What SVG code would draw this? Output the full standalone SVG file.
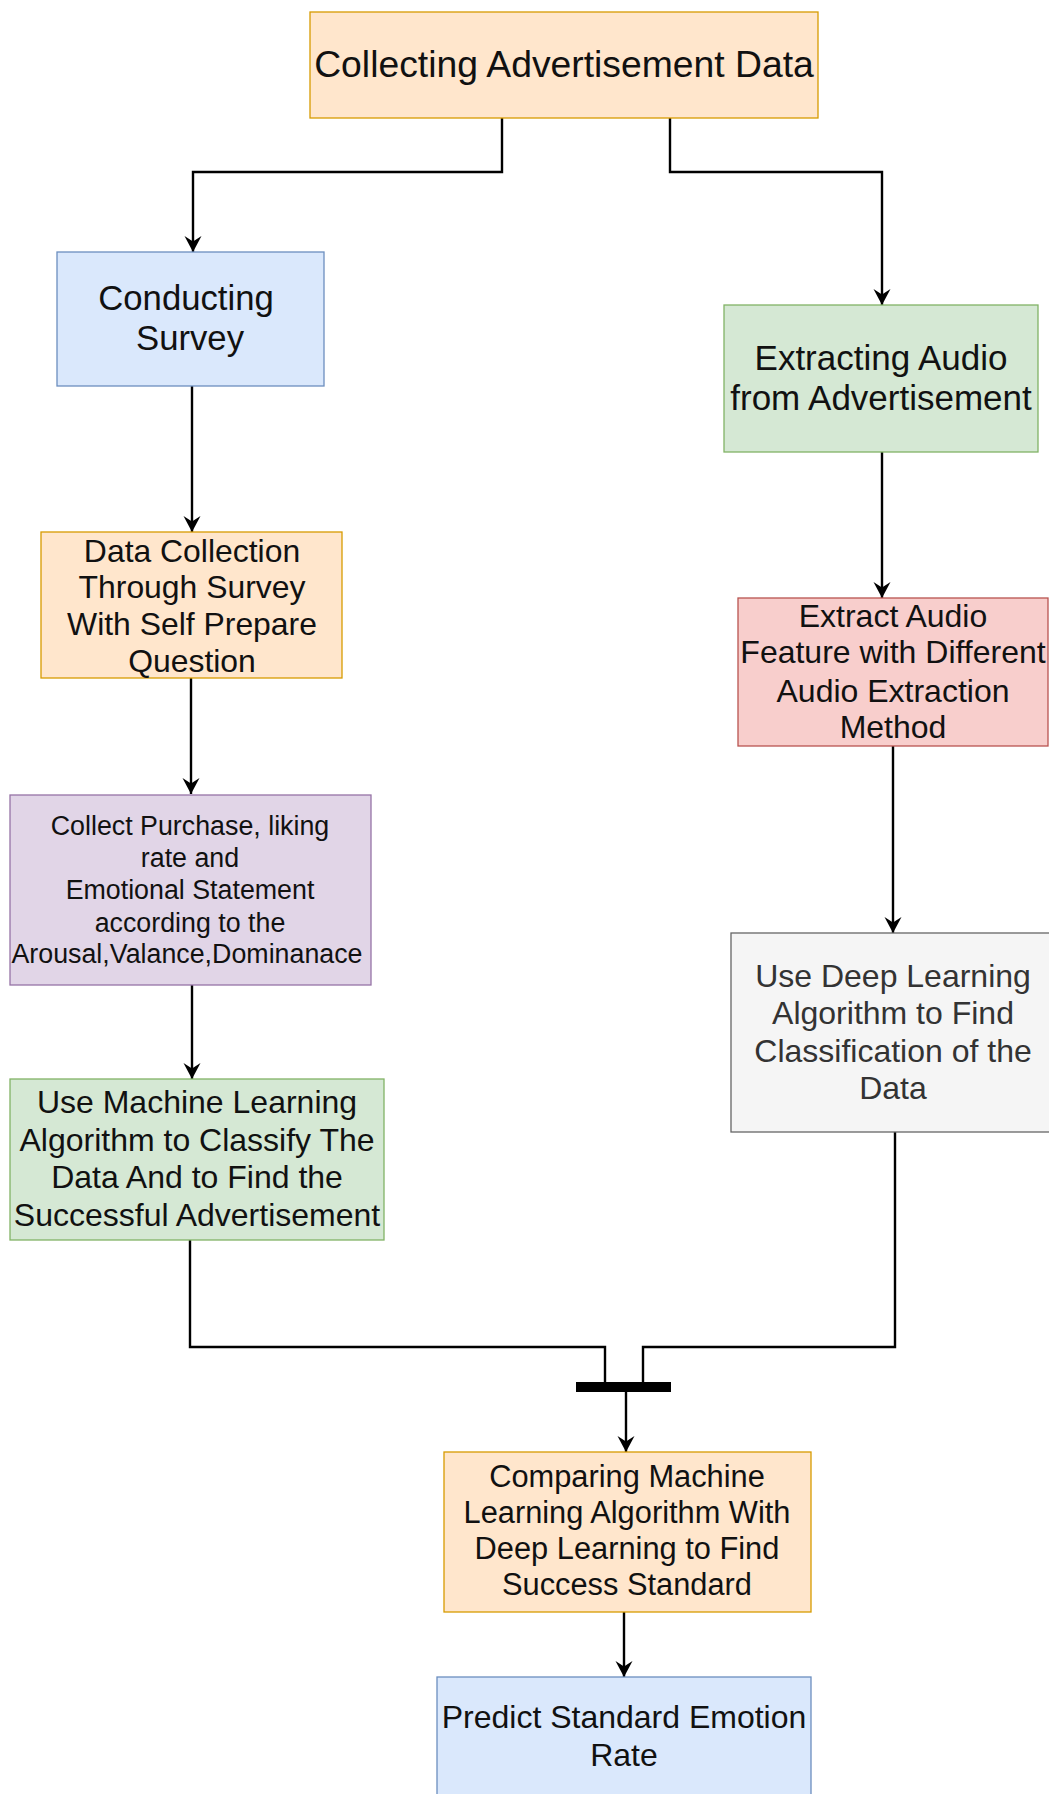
<svg xmlns="http://www.w3.org/2000/svg" width="1049" height="1794" viewBox="0 0 1049 1794">
<defs>
<style>
text{font-family:"Liberation Sans",Arial,Helvetica,sans-serif;fill:#111;text-anchor:middle}
.box{stroke-width:1.3}
.orange{fill:#ffe6cc;stroke:#d79b00}
.blue{fill:#dae8fc;stroke:#6c8ebf}
.green{fill:#d5e8d4;stroke:#82b366}
.red{fill:#f8cecc;stroke:#b85450}
.purple{fill:#e1d5e7;stroke:#9673a6}
.gray{fill:#f5f5f5;stroke:#666666}
.gray-t{fill:#333333}
.edge{fill:none;stroke:#000;stroke-width:2.4}
</style>
<marker id="arr" markerUnits="userSpaceOnUse" markerWidth="17" markerHeight="17" viewBox="0 0 17 17" refX="16" refY="8.5" orient="auto" overflow="visible">
<path d="M0,0 L16,8.5 L0,17 L5.5,8.5 Z" fill="#000"/>
</marker>
</defs>
<rect width="1049" height="1794" fill="#fff"/>

<g id="connectors">
<path class="edge" d="M502,118 V172 H193 V252" marker-end="url(#arr)"/>
<path class="edge" d="M670,118 V172 H882 V305" marker-end="url(#arr)"/>
<path class="edge" d="M192,386 V532" marker-end="url(#arr)"/>
<path class="edge" d="M191,678 V794" marker-end="url(#arr)"/>
<path class="edge" d="M192,985 V1079" marker-end="url(#arr)"/>
<path class="edge" d="M882,452 V598" marker-end="url(#arr)"/>
<path class="edge" d="M893,746 V933" marker-end="url(#arr)"/>
<path class="edge" d="M895,1132 V1347 H643 V1383"/>
<path class="edge" d="M190,1240 V1347 H605 V1383"/>
<path class="edge" d="M626,1392 V1452" marker-end="url(#arr)"/>
<path class="edge" d="M624,1612 V1677" marker-end="url(#arr)"/>
</g>

<g id="join-bar">
<rect x="576" y="1382" width="95" height="10" fill="#000"/>
</g>

<g id="collecting-data">
<rect class="box orange" x="310" y="12" width="508" height="106"/>
<text x="564" y="77" font-size="37.3">Collecting Advertisement Data</text>
</g>

<g id="conducting-survey">
<rect class="box blue" x="57" y="252" width="267" height="134"/>
<text x="186" y="310" font-size="34.7">Conducting</text>
<text x="190" y="350" font-size="34.7">Survey</text>
</g>

<g id="data-collection">
<rect class="box orange" x="41" y="532" width="301" height="146"/>
<text x="192" y="562" font-size="31.9">Data Collection</text>
<text x="192" y="598" font-size="31.9">Through Survey</text>
<text x="192" y="635" font-size="31.9">With Self Prepare</text>
<text x="192" y="672" font-size="31.9">Question</text>
</g>

<g id="collect-purchase">
<rect class="box purple" x="10" y="795" width="361" height="190"/>
<text x="190" y="835" font-size="26.8">Collect Purchase, liking</text>
<text x="190" y="867" font-size="26.8">rate and</text>
<text x="190" y="899" font-size="26.8">Emotional Statement</text>
<text x="190" y="932" font-size="26.8">according to the</text>
<text x="187" y="963" font-size="26.8">Arousal,Valance,Dominanace</text>
</g>

<g id="machine-learning">
<rect class="box green" x="10" y="1079" width="374" height="161"/>
<text x="197" y="1113" font-size="32">Use Machine Learning</text>
<text x="197" y="1151" font-size="32">Algorithm to Classify The</text>
<text x="197" y="1188" font-size="32">Data And to Find the</text>
<text x="197" y="1226" font-size="32">Successful Advertisement</text>
</g>

<g id="extracting-audio">
<rect class="box green" x="724" y="305" width="314" height="147"/>
<text x="881" y="370" font-size="35">Extracting Audio</text>
<text x="881" y="410" font-size="35">from Advertisement</text>
</g>

<g id="extract-feature">
<rect class="box red" x="738" y="598" width="310" height="148"/>
<text x="893" y="627" font-size="32">Extract Audio</text>
<text x="893" y="663" font-size="32">Feature with Different</text>
<text x="893" y="702" font-size="32">Audio Extraction</text>
<text x="893" y="738" font-size="32">Method</text>
</g>

<g id="deep-learning">
<rect class="box gray" x="731" y="933" width="330" height="199"/>
<text class="gray-t" x="893" y="987" font-size="32">Use Deep Learning</text>
<text class="gray-t" x="893" y="1024" font-size="32">Algorithm to Find</text>
<text class="gray-t" x="893" y="1062" font-size="32">Classification of the</text>
<text class="gray-t" x="893" y="1099" font-size="32">Data</text>
</g>

<g id="comparing">
<rect class="box orange" x="444" y="1452" width="367" height="160"/>
<text x="627" y="1487" font-size="30.8">Comparing Machine</text>
<text x="627" y="1523" font-size="30.8">Learning Algorithm With</text>
<text x="627" y="1559" font-size="30.8">Deep Learning to Find</text>
<text x="627" y="1595" font-size="30.8">Success Standard</text>
</g>

<g id="predict">
<rect class="box blue" x="437" y="1677" width="374" height="140"/>
<text x="624" y="1728" font-size="32">Predict Standard Emotion</text>
<text x="624" y="1766" font-size="32">Rate</text>
</g>
</svg>
